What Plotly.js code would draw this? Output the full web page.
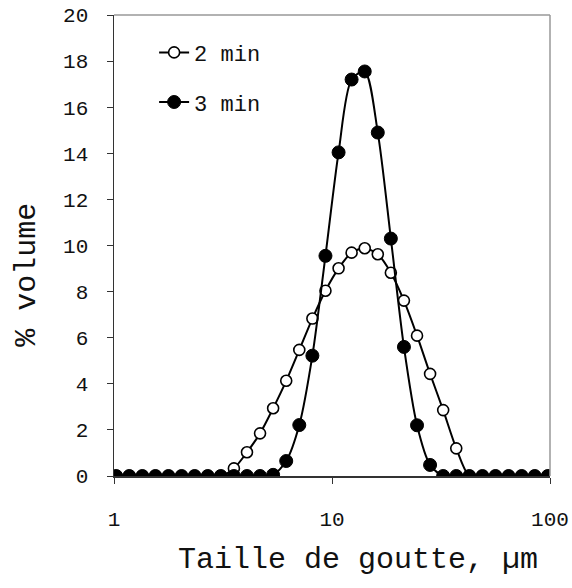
<!DOCTYPE html>
<html>
<head>
<meta charset="utf-8">
<script src="https://cdn.plot.ly/plotly-3.0.1.min.js"></script>
<style>html,body{margin:0;padding:0;background:#fff;}#chart{width:572px;height:588px;}</style>
</head>
<body>
<div id="chart"></div>
<script>
// Droplet size (µm), log-spaced bin centres
const tailles = [1.023, 1.175, 1.349, 1.549, 1.778, 2.042, 2.344, 2.692, 3.090, 3.548,
  4.074, 4.677, 5.370, 6.166, 7.079, 8.128, 9.333, 10.72, 12.30, 14.13,
  16.22, 18.62, 21.38, 24.55, 28.18, 32.36, 37.15, 42.66, 48.98, 56.23,
  64.57, 74.13, 85.11, 97.72];
// % volume after 2 min
const vol2min = [0, 0, 0, 0, 0, 0, 0, 0, 0, 0.33,
  1.03, 1.85, 2.94, 4.13, 5.47, 6.83, 8.04, 9.01, 9.69, 9.88,
  9.62, 8.82, 7.61, 6.09, 4.43, 2.86, 1.2, 0, 0, 0,
  0, 0, 0, 0];
// % volume after 3 min
const vol3min = [0, 0, 0, 0, 0, 0, 0, 0, 0, 0,
  0, 0, 0.05, 0.65, 2.21, 5.22, 9.55, 14.04, 17.2, 17.55,
  14.9, 10.3, 5.6, 2.2, 0.48, 0, 0, 0, 0, 0,
  0, 0, 0, 0];
const seriesNames = ["2 min", "3 min"];
const xTicks = [1, 10, 100];
const xTickLabels = ["1", "10", "100"];
const yTicks = [0, 2, 4, 6, 8, 10, 12, 14, 16, 18, 20];
const xTitle = "Taille de goutte, \u00b5m";
const yTitle = "% volume";

const FONT = "Liberation Mono, DejaVu Sans Mono, monospace";

const traces = [
  {
    x: tailles, y: vol2min, name: seriesNames[0], type: "scatter", mode: "lines+markers",
    line: {color: "#000", width: 2, shape: "spline", smoothing: 0.8},
    marker: {symbol: "circle", size: 11, color: "#fff", line: {color: "#000", width: 1.6}},
    legendgroup: "a"
  },
  {
    x: tailles, y: vol3min, name: seriesNames[1], type: "scatter", mode: "lines+markers",
    line: {color: "#000", width: 2, shape: "spline", smoothing: 0.8},
    marker: {symbol: "circle", size: 13, color: "#000", line: {color: "#000", width: 1}},
    legendgroup: "b"
  }
];

const layout = {
  width: 572, height: 588,
  margin: {l: 114, r: 22, t: 15, b: 112},
  paper_bgcolor: "#fff", plot_bgcolor: "#fff",
  font: {family: FONT, color: "#111", size: 20},
  showlegend: true,
  legend: {
    x: 0.092, y: 0.964, xanchor: "left", yanchor: "top",
    bgcolor: "rgba(0,0,0,0)", borderwidth: 0,
    font: {family: FONT, size: 22, color: "#111"},
    traceorder: "grouped", tracegroupgap: 18, itemwidth: 30
  },
  xaxis: {
    type: "log", range: [0, 2],
    tickvals: xTicks, ticktext: xTickLabels,
    ticks: "outside", ticklen: 6, tickwidth: 1, tickcolor: "#333",
    showline: true, linecolor: "#333", linewidth: 1.5,
    showgrid: false, zeroline: false,
    tickfont: {family: FONT, size: 21, color: "#111"},
    ticklabelstandoff: 17
  },
  yaxis: {
    range: [0, 20], tickvals: yTicks,
    ticks: "outside", ticklen: 6, tickwidth: 1, tickcolor: "#333",
    showline: true, linecolor: "#333", linewidth: 1.5,
    showgrid: false, zeroline: false,
    tickfont: {family: FONT, size: 21, color: "#111"},
    ticklabelstandoff: 14
  },
  shapes: [
    {type: "line", xref: "paper", yref: "paper", x0: 0, x1: 1, y0: 1, y1: 1, line: {color: "#999", width: 1.5}},
    {type: "line", xref: "paper", yref: "paper", x0: 1, x1: 1, y0: 0, y1: 1, line: {color: "#999", width: 1.5}}
  ],
  annotations: [
    {text: xTitle, xref: "paper", yref: "paper", x: 0.56, y: -0.183, xanchor: "center", yanchor: "middle",
     showarrow: false, font: {family: FONT, size: 30, color: "#111"}},
    {text: yTitle, xref: "paper", yref: "paper", x: -0.2, y: 0.436, xanchor: "center", yanchor: "middle",
     textangle: -90, showarrow: false, font: {family: FONT, size: 30, color: "#111"}}
  ]
};

Plotly.newPlot("chart", traces, layout, {displayModeBar: false, staticPlot: true});
</script>
</body>
</html>
